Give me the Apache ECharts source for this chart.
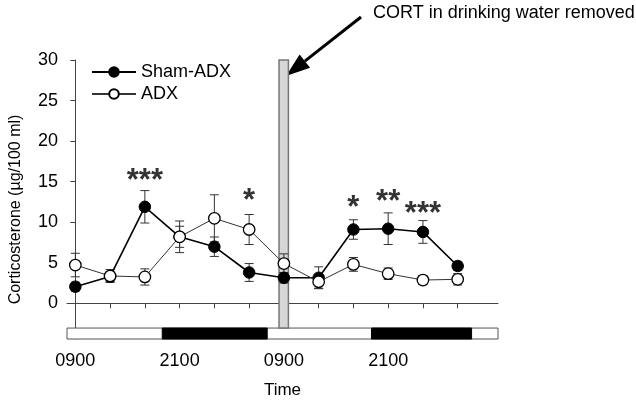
<!DOCTYPE html>
<html>
<head>
<meta charset="utf-8">
<script src="https://cdn.jsdelivr.net/npm/echarts@6/dist/echarts.min.js"></script>
<style>html,body{margin:0;padding:0;background:#fff;}#c{width:636px;height:400px;}</style>
</head>
<body>
<div id="c"></div>
<script>
// ---- data ----
const times = ['0900','1300','1700','2100','0100','0500','0900','1300','1700','2100','0100','0500'];
const timeIdx = [0,1,2,3,4,5,6,7,8,9,10,11];
const labelIdx = [0,3,6,9];
const yTicks = [0,5,10,15,20,25,30];
const shamMean = [2.05, 3.3, 11.9, 8.2, 6.98, 3.8, 3.15, 3.15, 9.1, 9.2, 8.8, 4.6];
const shamSem  = [0.55, 0.6, 2.0, 1.3, 1.2, 1.1, 0.65, 1.35, 1.2, 1.95, 1.4, 0.55];
const adxMean  = [4.72, 3.37, 3.25, 8.2, 10.48, 9.1, 4.9, 2.66, 4.8, 3.65, 2.87, 2.96];
const adxSem   = [1.45, 0.8, 1.0, 1.95, 2.9, 1.85, 1.2, 0.8, 0.85, 0.7, 0.55, 0.7];
const starIdx  = [2, 5, 8, 9, 10];
const starY    = [15.0, 12.5, 11.7, 12.45, 11.0];
const starText = ['***', '*', '*', '**', '***'];
const darkPeriods = [[2.5, 5.52], [8.52, 11.4]];
const removalTime = [5.86, 6.13];
const xRange = [-0.24, 12.16];
const yRange = [-4.4, 30];
const barBand = [-3.05, -4.4];

const FONT = 'Liberation Sans, Arial, Helvetica, sans-serif';
const chart = echarts.init(document.getElementById('c'), null, {renderer: 'canvas'});

const errData = (m, s) => timeIdx.map(i => [i, m[i] - s[i], m[i] + s[i]]);
function errRender(params, api) {
  const x = api.value(0);
  const lo = api.coord([x, api.value(1)]);
  const hi = api.coord([x, api.value(2)]);
  const w = 4.5;
  const st = {stroke: '#333', lineWidth: 1, fill: null};
  return {type: 'group', children: [
    {type: 'line', shape: {x1: lo[0], y1: lo[1], x2: hi[0], y2: hi[1]}, style: st},
    {type: 'line', shape: {x1: lo[0]-w, y1: lo[1], x2: lo[0]+w, y2: lo[1]}, style: st},
    {type: 'line', shape: {x1: hi[0]-w, y1: hi[1], x2: hi[0]+w, y2: hi[1]}, style: st}
  ]};
}

const bandData = [[xRange[0], xRange[1], 0]].concat(darkPeriods.map(p => [p[0], p[1], 1]));
function bandRender(params, api) {
  const a = api.coord([api.value(0), barBand[0]]);
  const b = api.coord([api.value(1), barBand[1]]);
  const dark = api.value(2) === 1;
  return {type: 'rect', shape: {x: a[0], y: a[1], width: b[0]-a[0], height: b[1]-a[1]},
    style: {fill: dark ? '#000' : '#fff', stroke: dark ? '#000' : '#555', lineWidth: 1}};
}
function removalRender(params, api) {
  const a = api.coord([removalTime[0], yRange[1]]);
  const b = api.coord([removalTime[1], barBand[0]]);
  return {type: 'rect', shape: {x: a[0], y: a[1], width: b[0]-a[0], height: b[1]-a[1]},
    style: {fill: '#d6d6d6', stroke: '#777', lineWidth: 1.5}};
}

// arrow geometry (annotation)
const tail = [361, 17], tip = [286, 76];
const dx = tip[0]-tail[0], dy = tip[1]-tail[1], L = Math.hypot(dx, dy);
const ux = dx/L, uy = dy/L, hl = 24, hw = 8.5;
const base = [tip[0]-ux*hl, tip[1]-uy*hl];

chart.setOption({
  animation: false,
  backgroundColor: '#fff',
  textStyle: {fontFamily: FONT},
  grid: {left: 67, right: 138, top: 60, bottom: 61, containLabel: false, outerBoundsMode: 'none'},
  legend: {
    data: ['Sham-ADX', 'ADX'], orient: 'vertical', left: 86, top: 58,
    itemWidth: 44, itemHeight: 12, itemGap: 4,
    textStyle: {fontFamily: FONT, fontSize: 18, color: '#000'}
  },
  xAxis: {
    type: 'value', min: xRange[0], max: xRange[1],
    name: 'Time', nameLocation: 'middle', nameGap: 43,
    nameTextStyle: {fontFamily: FONT, fontSize: 17, color: '#000'},
    axisLine: {show: true, lineStyle: {color: '#444'}},
    axisTick: {show: true, customValues: timeIdx, length: 5, lineStyle: {color: '#444'}},
    axisLabel: {customValues: labelIdx, formatter: v => times[Math.round(v)], margin: 13,
      fontFamily: FONT, fontSize: 18, color: '#000'},
    splitLine: {show: false}
  },
  yAxis: {
    type: 'value', min: yRange[0], max: yRange[1],
    name: 'Corticosterone (µg/100 ml)', nameLocation: 'middle', nameGap: 43,
    nameTextStyle: {fontFamily: FONT, fontSize: 16, color: '#000', padding: [0, 20, 0, 0]},
    axisLine: {show: true, lineStyle: {color: '#444'}},
    axisTick: {show: true, customValues: yTicks, length: 5, lineStyle: {color: '#444'}},
    axisLabel: {customValues: yTicks, margin: 9, fontFamily: FONT, fontSize: 18, color: '#000'},
    splitLine: {show: false}
  },
  series: [
    {type: 'custom', name: 'band', renderItem: bandRender, data: bandData, silent: true, z: 1, encode: {x: [0, 1]}},
    {type: 'custom', name: 'removal', renderItem: removalRender, data: [[removalTime[0], 0]], silent: true, z: 1},
    {type: 'custom', name: 'shamErr', renderItem: errRender, data: errData(shamMean, shamSem), z: 2, encode: {x: 0, y: [1, 2]}},
    {type: 'custom', name: 'adxErr', renderItem: errRender, data: errData(adxMean, adxSem), z: 2, encode: {x: 0, y: [1, 2]}},
    {type: 'line', name: 'Sham-ADX', data: timeIdx.map(i => [i, shamMean[i]]), z: 3,
      symbol: 'circle', symbolSize: 11.5, lineStyle: {color: '#000', width: 1.6},
      itemStyle: {color: '#000', borderColor: '#000', borderWidth: 1}},
    {type: 'line', name: 'ADX', data: timeIdx.map(i => [i, adxMean[i]]), z: 4,
      symbol: 'circle', symbolSize: 11.5, lineStyle: {color: '#333', width: 1},
      itemStyle: {color: '#fff', borderColor: '#000', borderWidth: 1.3}},
    {type: 'scatter', name: 'stars', symbolSize: 0, z: 5, silent: true,
      data: starIdx.map((x, k) => [x, starY[k], starText[k]]),
      label: {show: true, position: 'inside', formatter: p => p.value[2],
        fontFamily: FONT, fontWeight: 'bold', fontSize: 31, color: '#000'}}
  ],
  graphic: [
    {type: 'line', shape: {x1: tail[0], y1: tail[1], x2: base[0], y2: base[1]}, style: {stroke: '#000', lineWidth: 3}},
    {type: 'polygon', shape: {points: [tip, [base[0]-uy*hw, base[1]+ux*hw], [base[0]+uy*hw, base[1]-ux*hw]]}, style: {fill: '#000'}},
    {type: 'text', left: 373, top: 4, style: {text: 'CORT in drinking water removed', font: '18px ' + FONT, fill: '#000'}}
  ]
});
</script>
</body>
</html>
